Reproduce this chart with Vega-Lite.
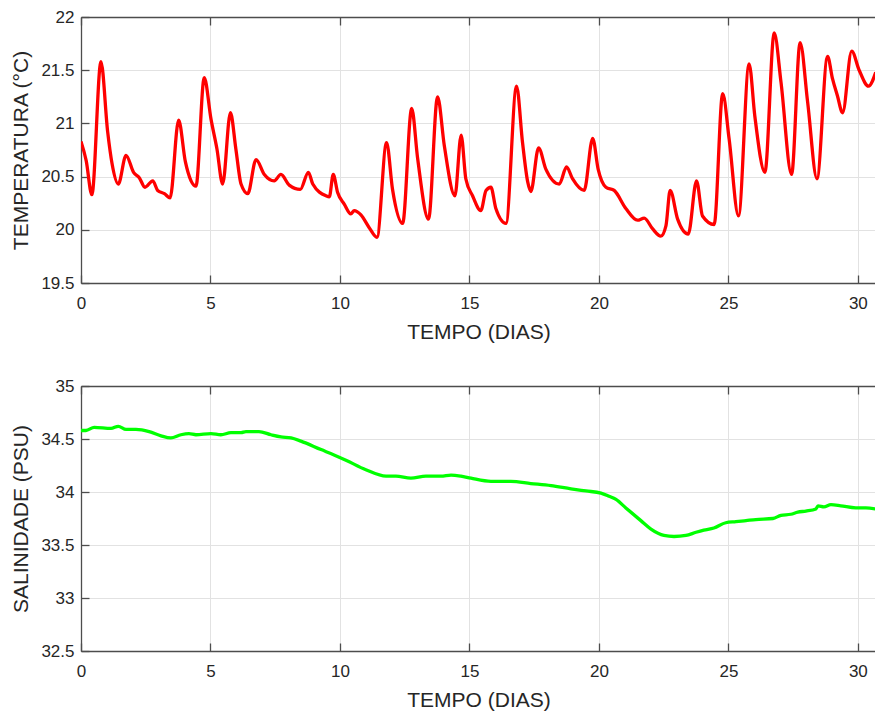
{
  "$schema": "https://vega.github.io/schema/vega-lite/v6.json",
  "padding": {"left": 10, "top": 8, "right": 0, "bottom": 2},
  "spacing": 103,
  "bounds": "flush",
  "config": {
    "font": "Liberation Sans",
    "view": {"stroke": null},
    "axis": {
      "labelFont": "Liberation Sans", "labelFontSize": 17, "labelColor": "#262626",
      "titleFont": "Liberation Sans", "titleFontSize": 21, "titleFontWeight": "normal", "titleColor": "#262626",
      "domainColor": "#4d4d4d", "domainWidth": 1.3, "tickColor": "#4d4d4d", "tickWidth": 1.3,
      "gridColor": "#e2e2e2", "gridWidth": 1, "labelFlush": false
    }
  },
  "datasets": {
    "temp": [
      {"dia": 0, "t": 20.83}, {"dia": 0.2, "t": 20.65}, {"dia": 0.42, "t": 20.33}, {"dia": 0.77, "t": 21.58},
      {"dia": 1.03, "t": 20.92}, {"dia": 1.2, "t": 20.62}, {"dia": 1.44, "t": 20.43}, {"dia": 1.74, "t": 20.7},
      {"dia": 2.03, "t": 20.54}, {"dia": 2.25, "t": 20.49}, {"dia": 2.47, "t": 20.4}, {"dia": 2.77, "t": 20.46},
      {"dia": 2.96, "t": 20.37}, {"dia": 3.22, "t": 20.34}, {"dia": 3.44, "t": 20.3}, {"dia": 3.77, "t": 21.03},
      {"dia": 4.03, "t": 20.64}, {"dia": 4.25, "t": 20.46}, {"dia": 4.44, "t": 20.41}, {"dia": 4.76, "t": 21.43},
      {"dia": 5.02, "t": 21.04}, {"dia": 5.25, "t": 20.76}, {"dia": 5.47, "t": 20.43}, {"dia": 5.77, "t": 21.1},
      {"dia": 5.98, "t": 20.76}, {"dia": 6.18, "t": 20.43}, {"dia": 6.44, "t": 20.34}, {"dia": 6.76, "t": 20.66},
      {"dia": 7.08, "t": 20.52}, {"dia": 7.46, "t": 20.46}, {"dia": 7.72, "t": 20.52}, {"dia": 8.04, "t": 20.42},
      {"dia": 8.47, "t": 20.38}, {"dia": 8.78, "t": 20.54}, {"dia": 8.95, "t": 20.43}, {"dia": 9.46, "t": 20.32},
      {"dia": 9.59, "t": 20.31}, {"dia": 9.74, "t": 20.52}, {"dia": 9.91, "t": 20.35}, {"dia": 10.17, "t": 20.24},
      {"dia": 10.42, "t": 20.15}, {"dia": 10.55, "t": 20.18}, {"dia": 10.81, "t": 20.14}, {"dia": 11.13, "t": 20.02},
      {"dia": 11.43, "t": 19.93}, {"dia": 11.8, "t": 20.82}, {"dia": 12.03, "t": 20.38}, {"dia": 12.42, "t": 20.06},
      {"dia": 12.77, "t": 21.14}, {"dia": 13.0, "t": 20.67}, {"dia": 13.42, "t": 20.1}, {"dia": 13.77, "t": 21.25},
      {"dia": 14.03, "t": 20.79}, {"dia": 14.44, "t": 20.32}, {"dia": 14.68, "t": 20.89}, {"dia": 14.86, "t": 20.48},
      {"dia": 15.12, "t": 20.32}, {"dia": 15.44, "t": 20.18}, {"dia": 15.64, "t": 20.37}, {"dia": 15.83, "t": 20.4},
      {"dia": 16.02, "t": 20.2}, {"dia": 16.41, "t": 20.06}, {"dia": 16.82, "t": 21.35}, {"dia": 17.05, "t": 20.82},
      {"dia": 17.25, "t": 20.45}, {"dia": 17.37, "t": 20.36}, {"dia": 17.67, "t": 20.77}, {"dia": 17.95, "t": 20.57},
      {"dia": 18.47, "t": 20.43}, {"dia": 18.75, "t": 20.59}, {"dia": 18.98, "t": 20.48}, {"dia": 19.43, "t": 20.37},
      {"dia": 19.76, "t": 20.86}, {"dia": 19.97, "t": 20.57}, {"dia": 20.27, "t": 20.4}, {"dia": 20.59, "t": 20.37},
      {"dia": 21.04, "t": 20.2}, {"dia": 21.49, "t": 20.09}, {"dia": 21.75, "t": 20.11}, {"dia": 22.07, "t": 20.01},
      {"dia": 22.39, "t": 19.94}, {"dia": 22.59, "t": 20.04}, {"dia": 22.75, "t": 20.37}, {"dia": 23.04, "t": 20.1},
      {"dia": 23.45, "t": 19.96}, {"dia": 23.77, "t": 20.46}, {"dia": 24.0, "t": 20.13}, {"dia": 24.45, "t": 20.05},
      {"dia": 24.78, "t": 21.28}, {"dia": 25.03, "t": 20.85}, {"dia": 25.39, "t": 20.13}, {"dia": 25.8, "t": 21.56},
      {"dia": 26.02, "t": 21.07}, {"dia": 26.41, "t": 20.54}, {"dia": 26.77, "t": 21.85}, {"dia": 27.03, "t": 21.39},
      {"dia": 27.44, "t": 20.52}, {"dia": 27.77, "t": 21.76}, {"dia": 28.06, "t": 21.2}, {"dia": 28.42, "t": 20.48},
      {"dia": 28.83, "t": 21.63}, {"dia": 29.02, "t": 21.42}, {"dia": 29.21, "t": 21.26}, {"dia": 29.41, "t": 21.1},
      {"dia": 29.76, "t": 21.68}, {"dia": 30.05, "t": 21.5}, {"dia": 30.41, "t": 21.35}, {"dia": 30.69, "t": 21.48}
    ],
    "sal": [
      {"dia": 0, "s": 34.58}, {"dia": 0.19, "s": 34.58}, {"dia": 0.51, "s": 34.61}, {"dia": 1.16, "s": 34.6},
      {"dia": 1.44, "s": 34.62}, {"dia": 1.74, "s": 34.59}, {"dia": 2.12, "s": 34.59}, {"dia": 2.63, "s": 34.57},
      {"dia": 3.09, "s": 34.53}, {"dia": 3.47, "s": 34.51}, {"dia": 3.86, "s": 34.54}, {"dia": 4.17, "s": 34.55},
      {"dia": 4.44, "s": 34.54}, {"dia": 5.02, "s": 34.55}, {"dia": 5.4, "s": 34.54}, {"dia": 5.79, "s": 34.56},
      {"dia": 6.18, "s": 34.56}, {"dia": 6.37, "s": 34.57}, {"dia": 6.87, "s": 34.57}, {"dia": 7.34, "s": 34.54},
      {"dia": 7.72, "s": 34.52}, {"dia": 8.11, "s": 34.51}, {"dia": 8.49, "s": 34.48}, {"dia": 9.27, "s": 34.4},
      {"dia": 9.77, "s": 34.35}, {"dia": 10.23, "s": 34.3}, {"dia": 11.0, "s": 34.21}, {"dia": 11.78, "s": 34.15},
      {"dia": 12.16, "s": 34.15}, {"dia": 12.74, "s": 34.13}, {"dia": 13.32, "s": 34.15}, {"dia": 13.9, "s": 34.15},
      {"dia": 14.29, "s": 34.16}, {"dia": 14.67, "s": 34.15}, {"dia": 15.06, "s": 34.13}, {"dia": 15.83, "s": 34.1},
      {"dia": 16.6, "s": 34.1}, {"dia": 17.37, "s": 34.08}, {"dia": 18.15, "s": 34.06}, {"dia": 18.92, "s": 34.03},
      {"dia": 19.5, "s": 34.01}, {"dia": 20.08, "s": 33.99}, {"dia": 20.39, "s": 33.96}, {"dia": 20.66, "s": 33.93},
      {"dia": 21.04, "s": 33.85}, {"dia": 21.62, "s": 33.73}, {"dia": 22.01, "s": 33.65}, {"dia": 22.51, "s": 33.59},
      {"dia": 22.9, "s": 33.58}, {"dia": 23.36, "s": 33.59}, {"dia": 23.75, "s": 33.62}, {"dia": 24.05, "s": 33.64},
      {"dia": 24.44, "s": 33.66}, {"dia": 24.9, "s": 33.71}, {"dia": 25.29, "s": 33.72}, {"dia": 25.68, "s": 33.73},
      {"dia": 26.06, "s": 33.74}, {"dia": 26.72, "s": 33.75}, {"dia": 27.03, "s": 33.78}, {"dia": 27.41, "s": 33.79},
      {"dia": 27.68, "s": 33.81}, {"dia": 27.99, "s": 33.82}, {"dia": 28.38, "s": 33.84}, {"dia": 28.46, "s": 33.87},
      {"dia": 28.69, "s": 33.86}, {"dia": 28.96, "s": 33.88}, {"dia": 29.34, "s": 33.87}, {"dia": 29.92, "s": 33.85},
      {"dia": 30.31, "s": 33.85}, {"dia": 30.69, "s": 33.84}
    ]
  },
  "vconcat": [
    {
      "width": 795,
      "height": 266,
      "data": {"name": "temp"},
      "layer": [
        {
          "mark": {"type": "line", "opacity": 0},
          "encoding": {
            "x": {"field": "dia", "type": "quantitative",
              "axis": {"orient": "top", "labels": false, "title": null, "values": [0, 5, 10, 15, 20, 25, 30], "tickSize": -8, "grid": false}},
            "y": {"field": "t", "type": "quantitative",
              "axis": {"title": "TEMPERATURA (°C)", "values": [19.5, 20, 20.5, 21, 21.5, 22], "format": "~g",
                "tickSize": -8, "labelPadding": 15, "titlePadding": 9, "grid": true}}
          }
        },
        {
          "mark": {"type": "line", "color": "#ff0000", "strokeWidth": 3.3, "interpolate": "monotone", "clip": true},
          "encoding": {
            "x": {"field": "dia", "type": "quantitative",
              "scale": {"domain": [0, 30.7], "nice": false, "zero": false},
              "axis": {"orient": "bottom", "title": "TEMPO (DIAS)", "values": [0, 5, 10, 15, 20, 25, 30], "format": "d",
                "tickSize": -8, "labelPadding": 20, "titlePadding": 10, "grid": true}},
            "y": {"field": "t", "type": "quantitative",
              "scale": {"domain": [19.5, 22], "nice": false, "zero": false},
              "axis": {"title": "TEMPERATURA (°C)", "values": [19.5, 20, 20.5, 21, 21.5, 22], "format": "~g",
                "tickSize": -8, "labelPadding": 15, "titlePadding": 9, "grid": true}}
          }
        }
      ],
      "resolve": {"axis": {"x": "independent"}}
    },
    {
      "width": 795,
      "height": 265,
      "data": {"name": "sal"},
      "layer": [
        {
          "mark": {"type": "line", "opacity": 0},
          "encoding": {
            "x": {"field": "dia", "type": "quantitative",
              "axis": {"orient": "top", "labels": false, "title": null, "values": [0, 5, 10, 15, 20, 25, 30], "tickSize": -8, "grid": false}},
            "y": {"field": "s", "type": "quantitative",
              "axis": {"title": "SALINIDADE (PSU)", "values": [32.5, 33, 33.5, 34, 34.5, 35], "format": "~g",
                "tickSize": -8, "labelPadding": 15, "titlePadding": 9, "grid": true}}
          }
        },
        {
          "mark": {"type": "line", "color": "#00ff00", "strokeWidth": 3.3, "interpolate": "monotone", "clip": true},
          "encoding": {
            "x": {"field": "dia", "type": "quantitative",
              "scale": {"domain": [0, 30.7], "nice": false, "zero": false},
              "axis": {"orient": "bottom", "title": "TEMPO (DIAS)", "values": [0, 5, 10, 15, 20, 25, 30], "format": "d",
                "tickSize": -8, "labelPadding": 20, "titlePadding": 10, "grid": true}},
            "y": {"field": "s", "type": "quantitative",
              "scale": {"domain": [32.5, 35], "nice": false, "zero": false},
              "axis": {"title": "SALINIDADE (PSU)", "values": [32.5, 33, 33.5, 34, 34.5, 35], "format": "~g",
                "tickSize": -8, "labelPadding": 15, "titlePadding": 9, "grid": true}}
          }
        }
      ],
      "resolve": {"axis": {"x": "independent"}}
    }
  ]
}
